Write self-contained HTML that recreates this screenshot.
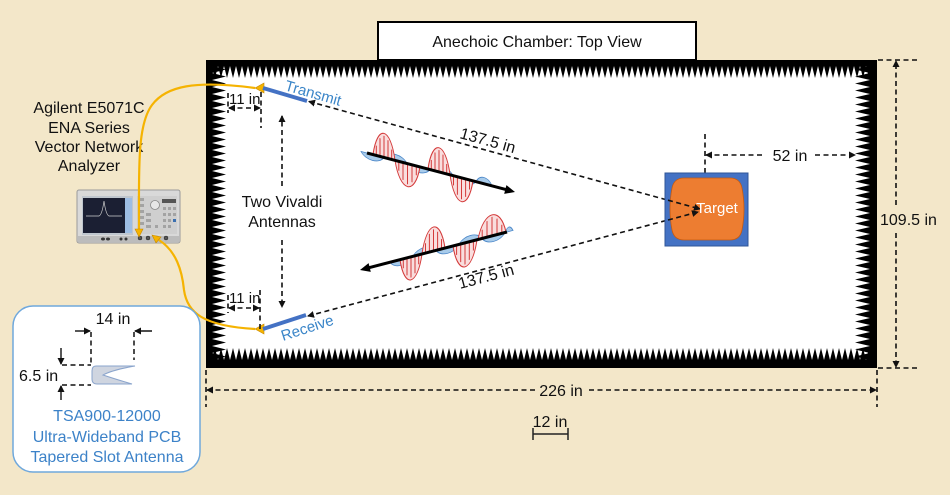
<!DOCTYPE html>
<html><head><meta charset="utf-8"><style>
html,body{margin:0;padding:0;background:#f3e7c9;}
svg{display:block;font-family:"Liberation Sans",Arial,sans-serif;}
</style></head><body>
<svg width="950" height="495" viewBox="0 0 950 495" xmlns="http://www.w3.org/2000/svg">
<defs>
<pattern id="tt" patternUnits="userSpaceOnUse" x="212" y="66" width="6" height="12"><path d="M0,0 L6,0 L3,12 Z" fill="#000"/></pattern>
<pattern id="tb" patternUnits="userSpaceOnUse" x="212" y="348" width="6" height="12"><path d="M0,12 L6,12 L3,0 Z" fill="#000"/></pattern>
<pattern id="tl" patternUnits="userSpaceOnUse" x="212" y="66" width="14" height="7"><path d="M0,0 L0,7 L14,3.5 Z" fill="#000"/></pattern>
<pattern id="tr" patternUnits="userSpaceOnUse" x="855" y="66" width="15" height="7"><path d="M15,0 L15,7 L0,3.5 Z" fill="#000"/></pattern>
<marker id="ah" markerWidth="7" markerHeight="7" refX="6" refY="3.5" orient="auto-start-reverse" markerUnits="userSpaceOnUse"><path d="M0,0 L7,3.5 L0,7 z" fill="#111"/></marker>
</defs>
<rect width="950" height="495" fill="#f3e7c9"/>

<!-- Chamber -->
<rect x="206" y="60" width="671" height="308" fill="#000"/>
<rect x="212" y="66" width="658" height="294" fill="#fff"/>
<rect x="212" y="66" width="658" height="12" fill="url(#tt)"/>
<rect x="212" y="348" width="658" height="12" fill="url(#tb)"/>
<rect x="212" y="66" width="14" height="294" fill="url(#tl)"/>
<rect x="855" y="66" width="15" height="294" fill="url(#tr)"/>

<!-- Title -->
<rect x="378" y="22" width="318" height="38" fill="#fff" stroke="#000" stroke-width="2"/>
<text x="537" y="47" font-size="16" text-anchor="middle" fill="#111">Anechoic Chamber: Top View</text>

<!-- Analyzer label -->
<g font-size="16" text-anchor="middle" fill="#111">
<text x="89" y="113">Agilent E5071C</text>
<text x="89" y="133">ENA Series</text>
<text x="89" y="152">Vector Network</text>
<text x="89" y="171">Analyzer</text>
</g>

<!-- Analyzer device -->
<g>
<rect x="77" y="190" width="103" height="53" rx="2" fill="#d9d9d9" stroke="#9a9a9a"/>
<rect x="78" y="236" width="101" height="6" fill="#bcbcbc"/>
<rect x="82" y="196" width="51" height="39" fill="#bfc6ce"/>
<rect x="83" y="198" width="42" height="35" fill="#1b1f33"/>
<rect x="125" y="198" width="7" height="35" fill="#9dbde3"/>
<path d="M86,216 L99,216 Q102,215 104,201 Q106,215 109,216 L122,216" stroke="#cfcfcf" fill="none" stroke-width="0.7"/>
<rect x="137" y="196" width="40" height="38" fill="#cfcfcf"/>
<circle cx="155" cy="205" r="4.5" fill="#e6e6e6" stroke="#888" stroke-width="0.8"/>
<g fill="#a3a3a3">
<rect x="139" y="198" width="5" height="3"/><rect x="139" y="204" width="5" height="3"/><rect x="139" y="210" width="5" height="3"/><rect x="139" y="216" width="5" height="3"/><rect x="139" y="222" width="5" height="3"/>
<rect x="146" y="213" width="5" height="3"/><rect x="146" y="219" width="5" height="3"/><rect x="146" y="225" width="5" height="3"/>
<rect x="162" y="199" width="14" height="4" fill="#555"/>
<rect x="163" y="207" width="3" height="3"/><rect x="168" y="207" width="3" height="3"/><rect x="173" y="207" width="3" height="3"/>
<rect x="163" y="213" width="3" height="3"/><rect x="168" y="213" width="3" height="3"/><rect x="173" y="213" width="3" height="3"/>
<rect x="163" y="219" width="3" height="3"/><rect x="168" y="219" width="3" height="3"/><rect x="173" y="219" width="3" height="3" fill="#3a6fb0"/>
<rect x="155" y="225" width="3" height="3"/><rect x="163" y="225" width="3" height="3"/><rect x="168" y="225" width="3" height="3"/>
</g>
<g fill="#333"><ellipse cx="103" cy="239" rx="2" ry="1.5"/><ellipse cx="108" cy="239" rx="2" ry="1.5"/><ellipse cx="121" cy="239" rx="1.5" ry="1.5"/><ellipse cx="126" cy="239" rx="1.5" ry="1.5"/></g>
<g fill="#555" stroke="#222" stroke-width="0.5"><circle cx="140" cy="238" r="2"/><circle cx="148" cy="238" r="2"/><circle cx="157" cy="238" r="2"/><circle cx="166" cy="238" r="2"/></g>
</g>

<!-- Cables -->
<g fill="none" stroke="#f5b301" stroke-width="2.2">
<path d="M139,231 C139,170 137,125 152,105 C166,86 195,80 255,88"/>
<path d="M159,240 C176,251 182,270 184,290 C187,312 202,326 255,329"/>
</g>
<g fill="#f5b301" stroke="#c88a00" stroke-width="0.6">
<path d="M135,229 L143,229 L139,237 Z"/>
<path d="M152,235 L161,237 L156,243 Z"/>
<path d="M255,88 L264,83 L264,93 Z"/>
<path d="M255,329 L264,324 L264,334 Z"/>
</g>

<!-- Antennas -->
<line x1="263" y1="88" x2="307" y2="101" stroke="#4472c4" stroke-width="4"/>
<line x1="263" y1="329" x2="306" y2="315" stroke="#4472c4" stroke-width="4"/>
<text x="284" y="90" font-size="15" fill="#3a85c8" transform="rotate(16 284 90)">Transmit</text>
<text x="283" y="341" font-size="15" fill="#3a85c8" transform="rotate(-18 283 341)">Receive</text>

<!-- Dashed dimension lines -->
<g stroke="#111" stroke-width="1.6" stroke-dasharray="5 3.5" fill="none">
<!-- 11 in top -->
<line x1="228" y1="93" x2="228" y2="113"/>
<line x1="261" y1="92" x2="261" y2="128"/>
<line x1="229" y1="108" x2="260" y2="108" marker-start="url(#ah)" marker-end="url(#ah)"/>
<!-- 11 in bottom -->
<line x1="228" y1="295" x2="228" y2="313"/>
<line x1="260" y1="290" x2="260" y2="330"/>
<line x1="229" y1="308" x2="259" y2="308" marker-start="url(#ah)" marker-end="url(#ah)"/>
<!-- Two vivaldi arrows -->
<line x1="282" y1="186" x2="282" y2="116" marker-end="url(#ah)"/>
<line x1="282" y1="240" x2="282" y2="307" marker-end="url(#ah)"/>
<!-- 137.5 lines -->
<line x1="309" y1="101.5" x2="700" y2="209" marker-start="url(#ah)" marker-end="url(#ah)"/>
<line x1="308" y1="316" x2="698" y2="212" marker-start="url(#ah)" marker-end="url(#ah)"/>
<!-- 52 in -->
<line x1="705" y1="134" x2="705" y2="173"/>
<line x1="706" y1="155" x2="765" y2="155" marker-start="url(#ah)"/>
<line x1="815" y1="155" x2="855" y2="155" marker-end="url(#ah)"/>
<!-- 109.5 in -->
<line x1="878" y1="60" x2="918" y2="60"/>
<line x1="878" y1="368" x2="918" y2="368"/>
<line x1="896" y1="205" x2="896" y2="61" marker-end="url(#ah)"/>
<line x1="896" y1="233" x2="896" y2="367" marker-end="url(#ah)"/>
<!-- 226 in -->
<line x1="206" y1="370" x2="206" y2="407"/>
<line x1="877" y1="370" x2="877" y2="407"/>
<line x1="535" y1="390" x2="207" y2="390" marker-end="url(#ah)"/>
<line x1="589" y1="390" x2="876" y2="390" marker-end="url(#ah)"/>
</g>

<g font-size="15" fill="#111">
<text x="229" y="104">11 in</text>
<text x="229" y="303">11 in</text>
</g>
<g font-size="16" fill="#111" text-anchor="middle">
<text x="282" y="207">Two Vivaldi</text>
<text x="282" y="227">Antennas</text>
<text x="790" y="161">52 in</text>
<text x="561" y="396">226 in</text>
<text x="550" y="427">12 in</text>
</g>
<text x="880" y="225" font-size="16" fill="#111">109.5 in</text>
<text x="459" y="138" font-size="16" fill="#111" transform="rotate(15.5 459 138)">137.5 in</text>
<text x="460" y="289" font-size="16" fill="#111" transform="rotate(-15 460 289)">137.5 in</text>

<!-- 12 in scale bar -->
<g stroke="#222" stroke-width="1.5">
<line x1="533" y1="434" x2="568" y2="434"/>
<line x1="533" y1="428" x2="533" y2="440"/>
<line x1="568" y1="428" x2="568" y2="440"/>
</g>

<!-- Target -->
<rect x="665" y="173" width="83" height="73" fill="#4472c4" stroke="#2f5597" stroke-width="1"/>
<path d="M684,178 L730,178 Q740,178 742,188 Q746,209 742,230 Q740,240 730,240 L684,240 Q674,240 672,230 Q668,209 672,188 Q674,178 684,178 Z" fill="#ed7d31" stroke="#c55a11" stroke-width="0.8"/>
<g stroke="#111" stroke-width="1.6" stroke-dasharray="5 3.5" fill="none">
<line x1="668" y1="200.2" x2="700" y2="209" marker-end="url(#ah)"/>
<line x1="668" y1="220" x2="698" y2="212" marker-end="url(#ah)"/>
</g>
<text x="717" y="213" font-size="15" fill="#fff" text-anchor="middle">Target</text>

<!-- Upper wave -->
<g transform="translate(367,153) skewY(14.6)">
<path d="M-6,0 C-1.4,8 12.4,8 17,0 C21.6,-8 35.4,-8 40,0 C44.6,8 58.4,8 63,0 C67.6,-8 81.4,-8 86,0 C90.6,8 104.4,8 109,0 C113,-8 121,-8 125,0 L-6,0 Z" fill="#a8cbea" stroke="#4a86c8" stroke-width="0.8"/>
<g fill="#f9dede" stroke="#d43a3a" stroke-width="1">
<path d="M6,0 C10.4,-32 23.6,-32 28,0 Z"/>
<path d="M28,0 C33,30.7 48,30.7 53,0 Z"/>
<path d="M61,0 C65.4,-32 78.6,-32 83,0 Z"/>
<path d="M83,0 C87.6,32 101.4,32 106,0 Z"/>
</g>
<path d="M9.3,0V-9.8M13,0V-18.2M17,0V-21.6M21,0V-18.2M24.7,0V-9.8M31.8,0V9.4M36,0V17.5M40.5,0V20.7M45,0V17.5M49.3,0V9.4M64.3,0V-9.8M68,0V-18.2M72,0V-21.6M76,0V-18.2M79.7,0V-9.8M86.5,0V9.8M90.4,0V18.2M94.5,0V21.6M98.6,0V18.2M102.5,0V9.8" stroke="#d43a3a" stroke-width="1" fill="none"/>
</g>
<line x1="367" y1="153" x2="507" y2="189.8" stroke="#000" stroke-width="3"/>
<path d="M515,192 L504.2,193.9 L506.4,185.1 Z" fill="#000"/>

<!-- Lower wave -->
<g transform="translate(360,270) skewY(-14.5)">
<path d="M30,0 C34.6,8 48.4,8 53,0 C57.6,-8 71.4,-8 76,0 C80.6,8 94.4,8 99,0 C103.6,-8 117.4,-8 122,0 C126.6,8 140.4,8 145,0 C147.6,-6 150.4,-6 153,0 L30,0 Z" fill="#a8cbea" stroke="#4a86c8" stroke-width="0.8"/>
<g fill="#f9dede" stroke="#d43a3a" stroke-width="1">
<path d="M40,0 C44.4,30.7 57.6,30.7 62,0 Z"/>
<path d="M62,0 C66.6,-32 80.4,-32 85,0 Z"/>
<path d="M93,0 C97.8,32 112.2,32 117,0 Z"/>
<path d="M118,0 C123.6,-28 140.4,-28 146,0 Z"/>
</g>
<path d="M43.3,0V9.4M47,0V17.5M51,0V20.7M55,0V17.5M58.7,0V9.4M65.5,0V-9.8M69.4,0V-18.2M73.5,0V-21.6M77.6,0V-18.2M81.5,0V-9.8M96.6,0V9.8M100.7,0V18.2M105,0V21.6M109.3,0V18.2M113.4,0V9.8M122.2,0V-8.6M127,0V-16M132,0V-19M137,0V-16M141.8,0V-8.6" stroke="#d43a3a" stroke-width="1" fill="none"/>
</g>
<line x1="369" y1="267.7" x2="507" y2="232" stroke="#000" stroke-width="3"/>
<path d="M360,270 L370.8,271.9 L368.6,263.1 Z" fill="#000"/>

<!-- Inset box -->
<rect x="13" y="306" width="187" height="166" rx="20" fill="#fff" stroke="#6fa8dc" stroke-width="1.5"/>
<text x="113" y="324" font-size="16" fill="#111" text-anchor="middle">14 in</text>
<text x="19" y="381" font-size="16" fill="#111">6.5 in</text>
<g stroke="#111" stroke-width="1.4" fill="none">
<line x1="75" y1="331" x2="90" y2="331" marker-end="url(#ah)"/>
<line x1="152" y1="331" x2="135" y2="331" marker-end="url(#ah)"/>
<line x1="61" y1="348" x2="61" y2="364" marker-end="url(#ah)"/>
<line x1="61" y1="400" x2="61" y2="386" marker-end="url(#ah)"/>
</g>
<g stroke="#111" stroke-width="1.5" stroke-dasharray="5 3.5" fill="none">
<line x1="91" y1="332" x2="91" y2="365"/>
<line x1="134" y1="332" x2="134" y2="360"/>
<line x1="62" y1="365" x2="91" y2="365"/>
<line x1="62" y1="385" x2="91" y2="385"/>
</g>
<path d="M96,366 L135,366 Q112,370 103,375 Q115,379 132,384 L97,384 Q92,384 92,379 L92,371 Q92,366 96,366 Z" fill="#cfd5e0" stroke="#8aa4cc" stroke-width="1"/>
<g font-size="16" fill="#3c82c8" text-anchor="middle">
<text x="107" y="421">TSA900-12000</text>
<text x="107" y="442">Ultra-Wideband PCB</text>
<text x="107" y="462">Tapered Slot Antenna</text>
</g>
</svg>
</body></html>
